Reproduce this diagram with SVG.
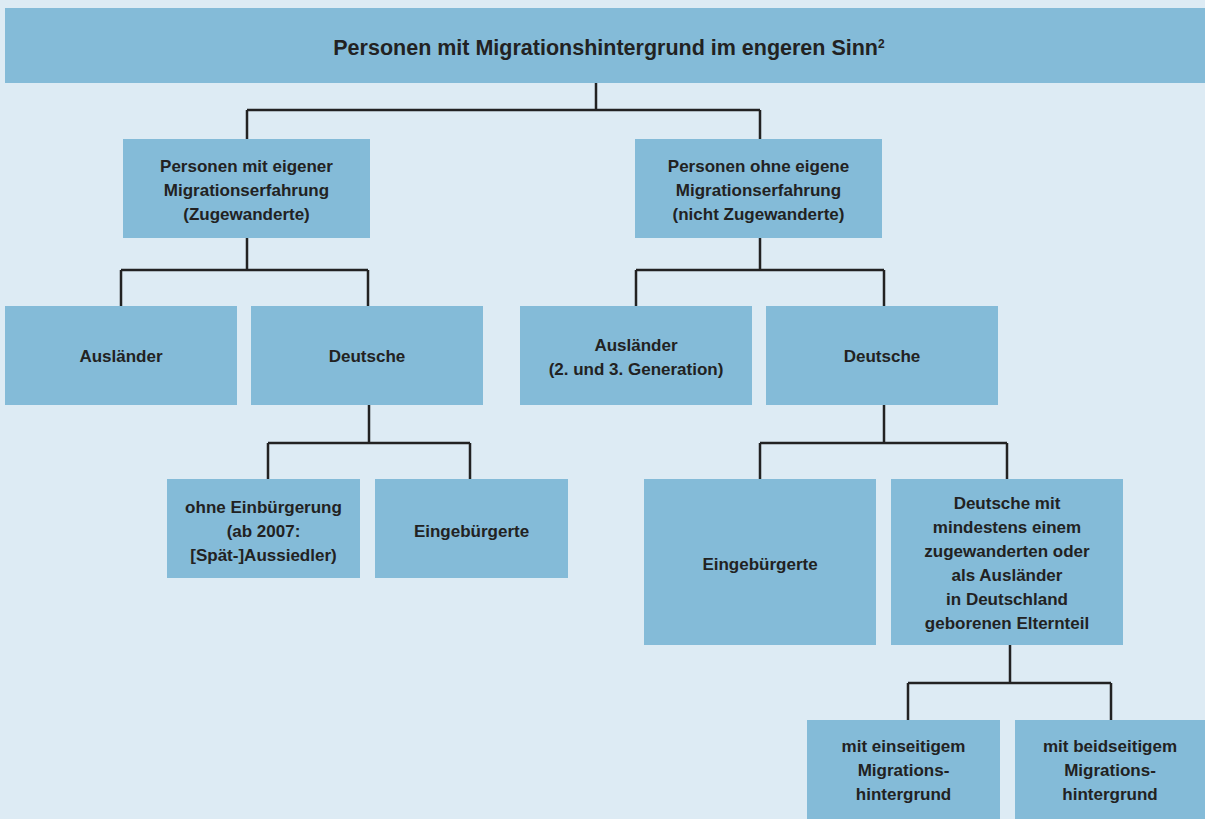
<svg xmlns="http://www.w3.org/2000/svg" width="1205" height="819" viewBox="0 0 1205 819">
<style>
.bx{fill:#84BBD8}
.t{font-family:"Liberation Sans",Arial,sans-serif;font-weight:bold;font-size:17px;fill:#222;text-anchor:middle}
.ti{font-size:21.5px}
.c{fill:none;stroke:#222;stroke-width:2.5}
</style>
<rect width="1205" height="819" fill="#DDEBF4"/>
<g id="connectors">
<path class="c" d="M596 83V110M247 110H760M247 110V139M760 110V139"/>
<path class="c" d="M247 238V270M121 270H368M121 270V306M368 270V306"/>
<path class="c" d="M760 238V270M636 270H884M636 270V306M884 270V306"/>
<path class="c" d="M369 405V443M268 443H470M268 443V479M470 443V479"/>
<path class="c" d="M884 405V443M760 443H1007M760 443V479M1007 443V479"/>
<path class="c" d="M1010 645V683M908 683H1111M908 683V720M1111 683V720"/>
</g>
<g id="root"><rect class="bx" x="5" y="8" width="1200" height="75"/>
<text class="t ti" x="609" y="55">Personen mit Migrationshintergrund im engeren Sinn<tspan font-size="12" dy="-7">2</tspan></text></g>
<g id="mit-erfahrung"><rect class="bx" x="123" y="139" width="247" height="99"/>
<text class="t" x="246.5" y="172">Personen mit eigener</text><text class="t" x="246.5" y="196">Migrationserfahrung</text><text class="t" x="246.5" y="220">(Zugewanderte)</text></g>
<g id="ohne-erfahrung"><rect class="bx" x="635" y="139" width="247" height="99"/>
<text class="t" x="758.5" y="172">Personen ohne eigene</text><text class="t" x="758.5" y="196">Migrationserfahrung</text><text class="t" x="758.5" y="220">(nicht Zugewanderte)</text></g>
<g id="auslaender1"><rect class="bx" x="5" y="306" width="232" height="99"/>
<text class="t" x="121" y="362">Ausländer</text></g>
<g id="deutsche1"><rect class="bx" x="251" y="306" width="232" height="99"/>
<text class="t" x="367" y="362">Deutsche</text></g>
<g id="auslaender2"><rect class="bx" x="520" y="306" width="232" height="99"/>
<text class="t" x="636" y="351">Ausländer</text><text class="t" x="636" y="375">(2. und 3. Generation)</text></g>
<g id="deutsche2"><rect class="bx" x="766" y="306" width="232" height="99"/>
<text class="t" x="882" y="362">Deutsche</text></g>
<g id="ohne-einbuergerung"><rect class="bx" x="167" y="479" width="193" height="99"/>
<text class="t" x="263.5" y="513">ohne Einbürgerung</text><text class="t" x="263.5" y="537">(ab 2007:</text><text class="t" x="263.5" y="561">[Spät-]Aussiedler)</text></g>
<g id="eingebuergerte1"><rect class="bx" x="375" y="479" width="193" height="99"/>
<text class="t" x="471.5" y="537">Eingebürgerte</text></g>
<g id="eingebuergerte2"><rect class="bx" x="644" y="479" width="232" height="166"/>
<text class="t" x="760" y="570">Eingebürgerte</text></g>
<g id="deutsche-mit"><rect class="bx" x="891" y="479" width="232" height="166"/>
<text class="t" x="1007" y="509">Deutsche mit</text><text class="t" x="1007" y="533">mindestens einem</text><text class="t" x="1007" y="557">zugewanderten oder</text><text class="t" x="1007" y="581">als Ausländer</text><text class="t" x="1007" y="605">in Deutschland</text><text class="t" x="1007" y="629">geborenen Elternteil</text></g>
<g id="einseitig"><rect class="bx" x="807" y="720" width="193" height="99"/>
<text class="t" x="903.5" y="752">mit einseitigem</text><text class="t" x="903.5" y="776">Migrations-</text><text class="t" x="903.5" y="800">hintergrund</text></g>
<g id="beidseitig"><rect class="bx" x="1015" y="720" width="190" height="99"/>
<text class="t" x="1110" y="752">mit beidseitigem</text><text class="t" x="1110" y="776">Migrations-</text><text class="t" x="1110" y="800">hintergrund</text></g>
</svg>
